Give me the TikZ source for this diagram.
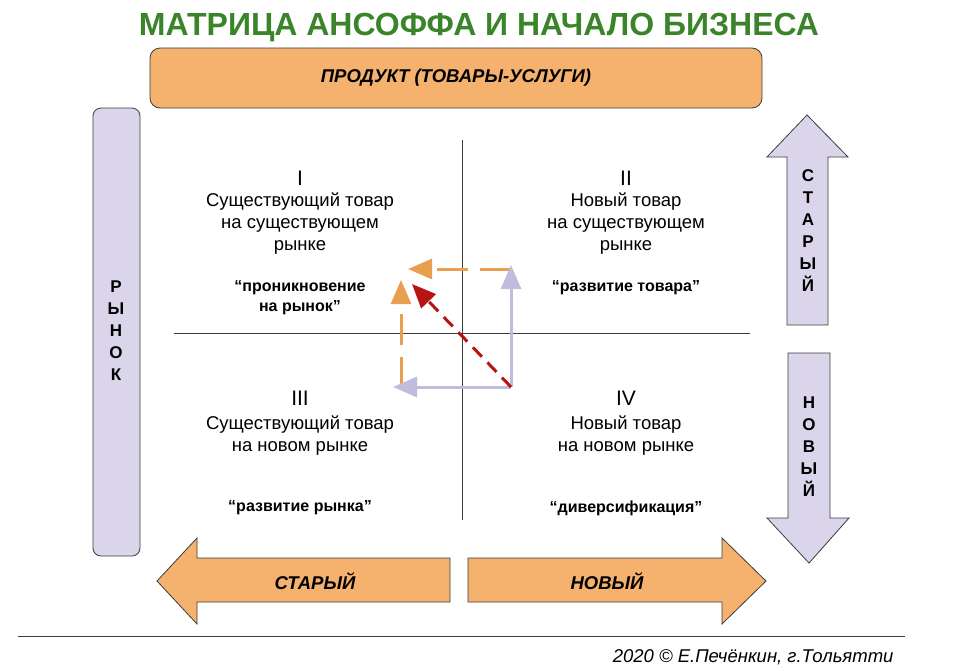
\documentclass[tikz,border=0pt]{standalone}
\usepackage{fontspec}
\setmainfont{Liberation Sans}
\usetikzlibrary{arrows.meta}
\definecolor{titlegreen}{RGB}{58,132,42}
\definecolor{prodorange}{RGB}{245,177,110}
\definecolor{mktlilac}{RGB}{218,213,235}
\definecolor{pathorange}{RGB}{232,160,80}
\definecolor{pathlilac}{RGB}{192,188,222}
\definecolor{pathred}{RGB}{185,20,20}
\definecolor{outline}{RGB}{60,60,60}

\begin{document}
\begin{tikzpicture}[x=1pt, y=-1pt,
  block/.style={draw=outline, line width=0.8pt},
  quad/.style={align=center, font=\fontsize{18.5}{22}\selectfont},
  numeral/.style={font=\fontsize{21}{22}\selectfont},
  motto/.style={align=center, font=\bfseries\fontsize{16}{20}\selectfont},
  letters/.style={align=center, font=\bfseries\fontsize{17}{22}\selectfont},
  axislabel/.style={font=\bfseries\itshape\fontsize{18.5}{20}\selectfont},
  lilacpath/.style={draw=pathlilac, line width=3pt, -{Triangle[length=24pt,width=20pt]}},
  orangepath/.style={draw=pathorange, line width=3pt, dash pattern=on 31pt off 12pt, -{Triangle[length=24pt,width=20pt]}},
  redpath/.style={draw=pathred, line width=3pt, dash pattern=on 13pt off 8pt, -{Triangle[length=24pt,width=20pt]}}]
\useasboundingbox (0,0) rectangle (960,670);

% Title
\node[font=\bfseries\fontsize{32}{34}\selectfont, text=titlegreen] (title) at (479,28)
  {МАТРИЦА АНСОФФА И НАЧАЛО БИЗНЕСА};

% Product bar on top, market bar on the left
\node[block, fill=prodorange, rounded corners=10pt, minimum width=612pt, minimum height=60pt,
  axislabel] (product) at (456,78) {ПРОДУКТ (ТОВАРЫ-УСЛУГИ)};
\node[block, fill=mktlilac, rounded corners=8pt, minimum width=47pt, minimum height=448pt]
  (market) at (116.5,332) {};
\node[letters] (marketword) at (116,331) {Р\\Ы\\Н\\О\\К};

% Axes of the matrix
\draw[outline, line width=0.9pt] (462,140) -- (462,520);
\draw[outline, line width=0.9pt] (174,333) -- (750,333);

% Quadrant I
\node[numeral] (q1num) at (300,178) {I};
\node[quad] (q1text) at (300,224) {Существующий товар\\на существующем\\рынке};
\node[motto] (q1motto) at (300,298) {“проникновение\\на рынок”};

% Quadrant II
\node[numeral] (q2num) at (626,178) {II};
\node[quad] (q2text) at (626,224) {Новый товар\\на существующем\\рынке};
\node[motto] (q2motto) at (626,288) {“развитие товара”};

% Quadrant III
\node[numeral] (q3num) at (300,398) {III};
\node[quad] (q3text) at (300,436) {Существующий товар\\на новом рынке};
\node[motto] (q3motto) at (300,508) {“развитие рынка”};

% Quadrant IV
\node[numeral] (q4num) at (626,398) {IV};
\node[quad] (q4text) at (626,436) {Новый товар\\на новом рынке};
\node[motto] (q4motto) at (626,508) {“диверсификация”};

% Market arrows on the right
\draw[block, fill=mktlilac] (787,325) -- (787,157) -- (767,157) -- (807,115) -- (848,157)
  -- (828,157) -- (828,325) -- cycle;
\node[letters] (oldmkt) at (808,231) {С\\Т\\А\\Р\\Ы\\Й};
\draw[block, fill=mktlilac] (788,353) -- (830,353) -- (830,518) -- (849,518) -- (809,563)
  -- (767,518) -- (788,518) -- cycle;
\node[letters] (newmkt) at (809,447) {Н\\О\\В\\Ы\\Й};

% Product arrows at the bottom
\draw[block, fill=prodorange] (450,558) -- (197,558) -- (197,538) -- (157,581) -- (197,624)
  -- (197,602) -- (450,602) -- cycle;
\node[axislabel] (oldprod) at (315,581) {СТАРЫЙ};
\draw[block, fill=prodorange] (468,558) -- (722,558) -- (722,538) -- (766,581) -- (722,624)
  -- (722,602) -- (468,602) -- cycle;
\node[axislabel] (newprod) at (607,581) {НОВЫЙ};

% Paths from quadrant IV back to quadrant I
\coordinate (corner) at (511,387);
\coordinate (upTip) at (511,265);
\coordinate (leftTip) at (393,387);
\coordinate (topStart) at (511,269);
\coordinate (topTip) at (408,269);
\coordinate (sideStart) at (401,388);
\coordinate (sideTip) at (401,280);
\coordinate (diagTip) at (412,284);
\draw[orangepath] (topStart) -- (topTip);
\draw[orangepath] (sideStart) -- (sideTip);
\draw[lilacpath] (corner) -- (upTip);
\draw[lilacpath] (corner) -- (leftTip);
\draw[redpath] (corner) -- (diagTip);

% Footer
\draw[outline, line width=0.9pt] (18,636) -- (905,636);
\node[anchor=east, font=\itshape\fontsize{18.5}{20}\selectfont] (credit) at (897,657)
  {2020 © Е.Печёнкин, г.Тольятти};
\end{tikzpicture}
\end{document}
